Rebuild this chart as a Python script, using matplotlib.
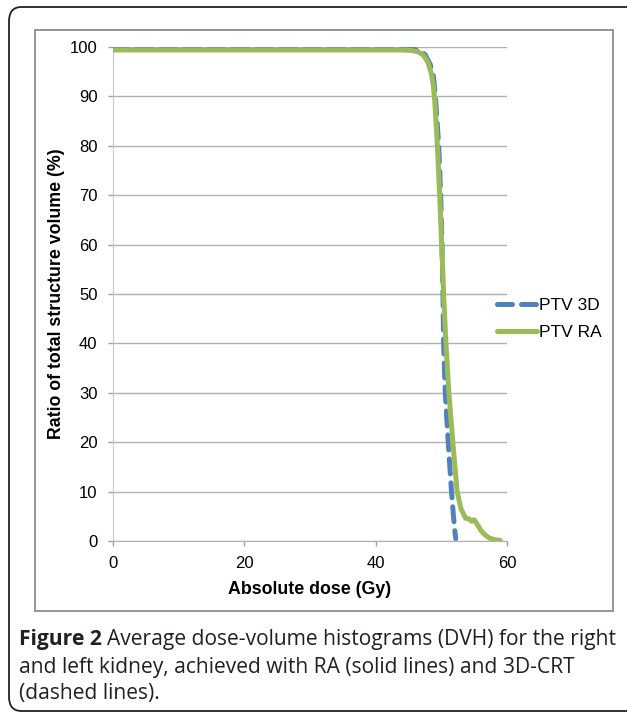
import matplotlib
matplotlib.use("Agg")
import matplotlib.pyplot as plt
from matplotlib.patches import FancyBboxPatch, Rectangle

# PTV 3D (dashed) - dose (Gy) vs volume (%)
dose_3d = [0, 45, 46.5, 47.5, 48.3, 48.8, 49.1, 49.6, 49.9, 50.1, 50.25,
           50.35, 50.6, 51.05, 51.55, 51.85, 52.1, 52.2]
vol_3d = [99.6, 99.6, 99.4, 98.5, 96.5, 94, 90, 80, 70, 60, 50,
          40, 30, 20, 10, 5, 1.5, 0.5]

# PTV RA (solid)
dose_ra = [0, 44, 45.5, 46.5, 47.3, 48.0, 48.5, 48.8, 49.0, 49.4, 49.75,
           50.05, 50.35, 50.7, 51.15, 51.75, 52.4, 53.0, 53.7, 54.2, 54.6,
           55.0, 55.4, 56.0, 56.6, 57.3, 58.0, 59.0]
vol_ra = [99.4, 99.4, 99.3, 99.0, 98.3, 96.8, 94.5, 92, 89, 80, 70,
          60, 50, 40, 30, 20, 10, 6.5, 4.6, 4.5, 4.0,
          4.3, 3.5, 2.2, 1.3, 0.6, 0.3, 0.1]

x_ticks = [0, 20, 40, 60]
y_ticks = list(range(0, 101, 10))

caption1 = "Average dose-volume histograms (DVH) for the right"
caption2 = "and left kidney, achieved with RA (solid lines) and 3D-CRT"
caption3 = "(dashed lines)."

W, H = 627, 715
fig = plt.figure(figsize=(W / 100, H / 100), dpi=100)
plt.rcParams['font.family'] = ['Liberation Sans', 'DejaVu Sans']

# outer rounded frame and inner chart box (pixel coords -> figure fraction)
def fx(px):
    return px / W

def fy(py):
    return 1 - py / H

outer = FancyBboxPatch((fx(9), fy(711)), fx(680) - fx(9), fy(7) - fy(711),
                       boxstyle="round,pad=0,rounding_size=0.02",
                       transform=fig.transFigure, fill=False,
                       edgecolor="#222222", linewidth=1.3)
fig.patches.append(outer)
inner = Rectangle((fx(35), fy(611)), fx(613) - fx(35), fy(30) - fy(611),
                  transform=fig.transFigure, fill=False,
                  edgecolor="#8c8c8c", linewidth=1.3)
fig.patches.append(inner)

ax = fig.add_axes([fx(113), fy(541), fx(507) - fx(113), fy(47) - fy(541)])
ax.plot(dose_3d, vol_3d, color="#4F81BD", lw=3.6, ls=(0, (3.0, 1.8)),
        dash_capstyle="round", label="PTV 3D", zorder=3)
ax.plot(dose_ra, vol_ra, color="#9BBB59", lw=3.6, label="PTV RA",
        solid_capstyle="round", zorder=4)

ax.set_xlim(0, 60)
ax.set_ylim(0, 100)
ax.set_xticks(x_ticks)
ax.set_yticks(y_ticks)
ax.yaxis.grid(True, color="#b0b0b0", lw=1.0)
ax.set_axisbelow(True)
for s in ["top", "right"]:
    ax.spines[s].set_visible(False)
ax.spines["left"].set_color("#c8c8c8")
ax.spines["bottom"].set_color("#b0b0b0")
ax.tick_params(axis="both", colors="#a0a0a0", labelcolor="black",
               labelsize=12, length=3.6, width=1)
ax.tick_params(axis="y", pad=7.5)
ax.tick_params(axis="x", pad=7)

ax.set_xlabel("Absolute dose (Gy)", fontsize=12.8, fontweight="bold",
              va="center")
ax.set_ylabel("Ratio of total structure volume (%)", fontsize=12.8,
              fontweight="bold", va="center")
ax.xaxis.set_label_coords(0.5, (541 - 589) / 494)
ax.yaxis.set_label_coords((57 - 113) / 394, 0.5)

fig.legend(loc="center left", bbox_to_anchor=(fx(497), fy(319)),
           frameon=False, fontsize=12.5, handlelength=2.3, handletextpad=0.1,
           labelspacing=0.72, borderpad=0, borderaxespad=0)

cap_font = ["Open Sans", "DejaVu Sans"]
cap_col = "#231f20"
cap_size = 15.1
t = fig.text(fx(19), fy(640), "Figure 2 ", fontsize=cap_size, fontweight="bold",
             family=cap_font, va="center", ha="left", color=cap_col)
fig.canvas.draw()
bb = t.get_window_extent()
fig.text(bb.x1 / W, fy(640), caption1, fontsize=cap_size, family=cap_font,
         va="center", ha="left", color=cap_col)
fig.text(fx(19), fy(667), caption2, fontsize=cap_size, family=cap_font,
         va="center", ha="left", color=cap_col)
fig.text(fx(19), fy(693), caption3, fontsize=cap_size, family=cap_font,
         va="center", ha="left", color=cap_col)

fig.savefig("out.png", dpi=100)
